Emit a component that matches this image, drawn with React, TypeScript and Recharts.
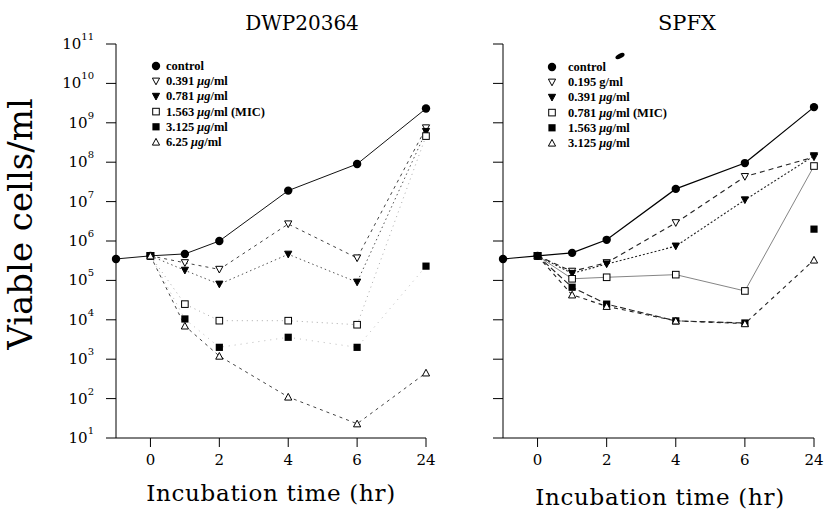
import { Line, LineChart, XAxis, YAxis } from "recharts";

// x positions: -1 = inoculum, 0..6 h linear, 24 h drawn at slot 8 (broken axis)
const hourPos = [-1, 0, 1, 2, 4, 6, 8];
const xTickPos = [0, 2, 4, 6, 8];
const xTickText = ["0", "2", "4", "6", "24"];
const yTicks = [1e1, 1e2, 1e3, 1e4, 1e5, 1e6, 1e7, 1e8, 1e9, 1e10, 1e11];

// DWP20364 panel
const dwpControl = [3.5e5, 4.2e5, 4.7e5, 1.0e6, 1.9e7, 9.0e7, 2.3e9];
const dwp0391 = [null, 4.2e5, 2.8e5, 1.9e5, 2.7e6, 3.7e5, 7.4e8];
const dwp0781 = [null, 4.2e5, 1.8e5, 8.0e4, 4.6e5, 9.0e4, 6.0e8];
const dwp1563 = [null, 4.2e5, 2.5e4, 9.5e3, 9.5e3, 7.5e3, 4.6e8];
const dwp3125 = [null, 4.2e5, 1.05e4, 2.0e3, 3.6e3, 2.0e3, 2.3e5];
const dwp625 = [null, 4.2e5, 7.0e3, 1.2e3, 1.1e2, 2.3e1, 4.5e2];

// SPFX panel
const spfxControl = [3.5e5, 4.2e5, 5.0e5, 1.07e6, 2.1e7, 9.5e7, 2.5e9];
const spfx0195 = [null, 4.2e5, 1.7e5, 2.8e5, 2.9e6, 4.3e7, 1.35e8];
const spfx0391 = [null, 4.2e5, 1.5e5, 2.6e5, 7.4e5, 1.1e7, 1.45e8];
const spfx0781 = [null, 4.2e5, 1.1e5, 1.2e5, 1.4e5, 5.4e4, 8.0e7];
const spfx1563 = [null, 4.2e5, 6.7e4, 2.5e4, 9.4e3, 8.3e3, null];
const spfx1563End = [null, null, null, null, null, null, 2.0e6];
const spfx3125 = [null, 4.2e5, 4.3e4, 2.2e4, 9.4e3, 8.0e3, 3.3e5];

type MarkerKind = "circle" | "triDownOpen" | "triDownFilled" | "squareOpen" | "squareFilled" | "triUpOpen";

type Series = {
  key: string;
  values: (number | null)[];
  marker: MarkerKind;
  color: string;
  width: number;
  dash?: string;
};

const dwpSeries: Series[] = [
  { key: "control", values: dwpControl, marker: "circle", color: "#111", width: 1 },
  { key: "d0391", values: dwp0391, marker: "triDownOpen", color: "#444", width: 1, dash: "3 4" },
  { key: "d0781", values: dwp0781, marker: "triDownFilled", color: "#555", width: 1, dash: "1.5 3" },
  { key: "d1563", values: dwp1563, marker: "squareOpen", color: "#aaa", width: 1, dash: "1 4" },
  { key: "d3125", values: dwp3125, marker: "squareFilled", color: "#bbb", width: 1, dash: "1 5" },
  { key: "d625", values: dwp625, marker: "triUpOpen", color: "#444", width: 1, dash: "3 4" },
];

const spfxSeries: Series[] = [
  { key: "s0195", values: spfx0195, marker: "triDownOpen", color: "#222", width: 1.1, dash: "5 4" },
  { key: "s0391", values: spfx0391, marker: "triDownFilled", color: "#222", width: 1.1, dash: "2 2" },
  { key: "s0781", values: spfx0781, marker: "squareOpen", color: "#666", width: 0.8 },
  { key: "s1563", values: spfx1563, marker: "squareFilled", color: "#222", width: 1.1, dash: "6 3" },
  { key: "s1563end", values: spfx1563End, marker: "squareFilled", color: "none", width: 0 },
  { key: "s3125", values: spfx3125, marker: "triUpOpen", color: "#222", width: 1.1, dash: "4 4" },
  { key: "control", values: spfxControl, marker: "circle", color: "#000", width: 1.2 },
];

const dwpLegend: { marker: MarkerKind; conc: string; unit: string; extra: string }[] = [
  { marker: "circle", conc: "control", unit: "", extra: "" },
  { marker: "triDownOpen", conc: "0.391 ", unit: "μg", extra: "/ml" },
  { marker: "triDownFilled", conc: "0.781 ", unit: "μg", extra: "/ml" },
  { marker: "squareOpen", conc: "1.563 ", unit: "μg", extra: "/ml (MIC)" },
  { marker: "squareFilled", conc: "3.125 ", unit: "μg", extra: "/ml" },
  { marker: "triUpOpen", conc: "6.25 ", unit: "μg", extra: "/ml" },
];

const spfxLegend: { marker: MarkerKind; conc: string; unit: string; extra: string }[] = [
  { marker: "circle", conc: "control", unit: "", extra: "" },
  { marker: "triDownOpen", conc: "0.195 g/ml", unit: "", extra: "" },
  { marker: "triDownFilled", conc: "0.391 ", unit: "μg", extra: "/ml" },
  { marker: "squareOpen", conc: "0.781 ", unit: "μg", extra: "/ml (MIC)" },
  { marker: "squareFilled", conc: "1.563 ", unit: "μg", extra: "/ml" },
  { marker: "triUpOpen", conc: "3.125 ", unit: "μg", extra: "/ml" },
];

function buildRows(series: Series[]) {
  return hourPos.map((x, i) => {
    const row: Record<string, number | null> = { x };
    series.forEach((s) => {
      row[s.key] = s.values[i];
    });
    return row;
  });
}

function Marker({ kind, cx, cy }: { kind: MarkerKind; cx: number; cy: number }) {
  const s = 3.6;
  switch (kind) {
    case "circle":
      return <circle cx={cx} cy={cy} r={4.2} fill="#000" />;
    case "triDownOpen":
      return <polygon points={`${cx - s},${cy - s + 0.5} ${cx + s},${cy - s + 0.5} ${cx},${cy + s}`} fill="#fff" stroke="#000" strokeWidth={1} />;
    case "triDownFilled":
      return <polygon points={`${cx - s},${cy - s + 0.5} ${cx + s},${cy - s + 0.5} ${cx},${cy + s}`} fill="#000" stroke="#000" strokeWidth={1} />;
    case "squareOpen":
      return <rect x={cx - 3.3} y={cy - 3.3} width={6.6} height={6.6} fill="#fff" stroke="#000" strokeWidth={1} />;
    case "squareFilled":
      return <rect x={cx - 3.6} y={cy - 3.6} width={7.2} height={7.2} fill="#000" />;
    case "triUpOpen":
      return <polygon points={`${cx - s},${cy + s - 0.5} ${cx + s},${cy + s - 0.5} ${cx},${cy - s}`} fill="#fff" stroke="#000" strokeWidth={1} />;
  }
}

function renderDot(kind: MarkerKind, key: string) {
  return (props: any) => {
    const { cx, cy, index, value } = props;
    const k = `${key}-${index}`;
    if (cx == null || cy == null || value == null || Number.isNaN(cy)) return <g key={k} />;
    return (
      <g key={k}>
        <Marker kind={kind} cx={cx} cy={cy} />
      </g>
    );
  };
}

function PowerTick(props: any) {
  const { x, y, payload } = props;
  const exp = Math.round(Math.log10(payload.value));
  return (
    <text x={x - 10} y={y + 5} textAnchor="end" fontFamily="DejaVu Serif" fontSize={15} fill="#000">
      10
      <tspan dy={-9} fontSize={10}>
        {exp}
      </tspan>
    </text>
  );
}

function Panel({
  series,
  width,
  yWidth,
  right,
  labels,
}: {
  series: Series[];
  width: number;
  yWidth: number;
  right: number;
  labels: boolean;
}) {
  const rows = buildRows(series);
  return (
    <LineChart width={width} height={510} data={rows} margin={{ top: 44, right, bottom: 42, left: 0 }}>
      <XAxis
        dataKey="x"
        type="number"
        domain={[-1, 8]}
        ticks={xTickPos}
        interval={0}
        tickFormatter={(v) => xTickText[xTickPos.indexOf(v)]}
        tickSize={9}
        tickMargin={7}
        height={30}
        stroke="#000"
        tick={{ fontFamily: "DejaVu Serif", fontSize: 15, fill: "#000" }}
      />
      <YAxis
        type="number"
        scale="log"
        domain={[10, 1e11]}
        ticks={yTicks}
        interval={0}
        tickSize={10}
        width={yWidth}
        stroke="#000"
        tick={labels ? <PowerTick /> : () => <g />}
      />
      {series.map((s) => (
        <Line
          key={s.key}
          dataKey={s.key}
          type="linear"
          stroke={s.color}
          strokeWidth={s.width}
          strokeDasharray={s.dash}
          dot={renderDot(s.marker, s.key)}
          activeDot={false}
          connectNulls={false}
          isAnimationActive={false}
        />
      ))}
    </LineChart>
  );
}

function LegendBlock({
  items,
  markerX,
  textX,
  top,
  fontSize,
}: {
  items: typeof dwpLegend;
  markerX: number;
  textX: number;
  top: number;
  fontSize: number;
}) {
  return (
    <g>
      {items.map((item, i) => {
        const cy = top + i * 15.2;
        return (
          <g key={i}>
            <Marker kind={item.marker} cx={markerX} cy={cy} />
            <text x={textX} y={cy + 4} fontFamily="Liberation Serif" fontWeight="bold" fontSize={fontSize} fill="#000">
              {item.conc}
              {item.unit ? <tspan fontStyle="italic">{item.unit}</tspan> : null}
              {item.extra}
            </text>
          </g>
        );
      })}
    </g>
  );
}

export default function App() {
  const serif = "DejaVu Serif";
  return (
    <div style={{ position: "absolute", left: 0, top: 0, width: 829, height: 510, background: "#fff", overflow: "hidden" }}>
      <div style={{ position: "absolute", left: 0, top: 0 }}>
        <Panel series={dwpSeries} width={440} yWidth={116} right={14} labels />
      </div>
      <div style={{ position: "absolute", left: 440, top: 0 }}>
        <Panel series={spfxSeries} width={389} yWidth={63} right={15} labels={false} />
      </div>
      <svg width={829} height={510} style={{ position: "absolute", left: 0, top: 0, pointerEvents: "none" }}>
        <text x={302} y={30} textAnchor="middle" fontFamily={serif} fontSize={20} fill="#000">
          DWP20364
        </text>
        <text x={687} y={30} textAnchor="middle" fontFamily={serif} fontSize={21} fill="#000">
          SPFX
        </text>
        <text x={271} y={501} textAnchor="middle" fontFamily={serif} fontSize={23} letterSpacing={0.7} fill="#000">
          Incubation time (hr)
        </text>
        <text x={660} y={505} textAnchor="middle" fontFamily={serif} fontSize={23} letterSpacing={0.7} fill="#000">
          Incubation time (hr)
        </text>
        <text transform="translate(32,224) rotate(-90)" textAnchor="middle" fontFamily={serif} fontSize={34} fill="#000">
          Viable cells/ml
        </text>
        <LegendBlock items={dwpLegend} markerX={156} textX={166} top={66} fontSize={12.5} />
        <LegendBlock items={spfxLegend} markerX={552} textX={568} top={67} fontSize={12.5} />
        <ellipse cx={620} cy={56} rx={5} ry={2.4} transform="rotate(-28 620 56)" fill="#000" />
      </svg>
    </div>
  );
}
